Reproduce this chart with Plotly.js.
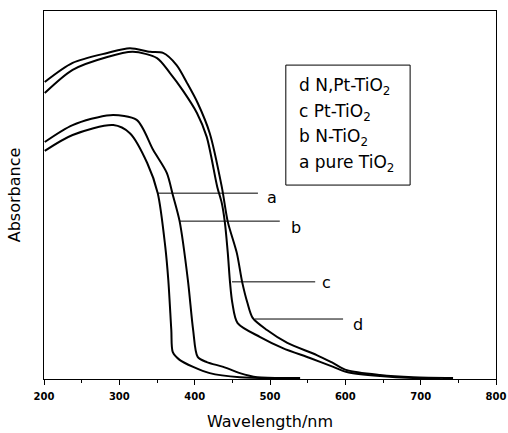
<!DOCTYPE html>
<html>
<head>
<meta charset="utf-8">
<script src="https://cdn.plot.ly/plotly-3.0.1.min.js"></script>
<style>html,body{margin:0;padding:0;background:#fff;}#chart{width:508px;height:433px;}</style>
</head>
<body>
<div id="chart"></div>
<script>
// Wavelength (nm) and absorbance (a.u.)
const wlD  = [201, 238, 284, 314, 341, 358, 376, 390, 404, 420, 436, 444, 456, 463, 470, 477, 496, 523, 562, 584, 602, 646, 690, 743];
const absD = [0.807, 0.859, 0.886, 0.899, 0.889, 0.886, 0.853, 0.804, 0.750, 0.668, 0.522, 0.427, 0.342, 0.264, 0.207, 0.166, 0.133, 0.098, 0.065, 0.043, 0.024, 0.011, 0.005, 0.003];

const wlC  = [201, 238, 284, 318, 350, 367, 384, 403, 416, 430, 436, 440, 444, 447, 450, 457, 487, 517, 553, 584, 602, 646, 690, 726];
const absC = [0.777, 0.840, 0.875, 0.889, 0.872, 0.832, 0.785, 0.723, 0.658, 0.522, 0.478, 0.427, 0.342, 0.261, 0.207, 0.152, 0.114, 0.084, 0.057, 0.033, 0.019, 0.008, 0.003, 0.003];

const wlB  = [201, 238, 288, 323, 345, 363, 371, 380, 391, 398, 404, 416, 438, 460, 483, 540];
const absB = [0.644, 0.690, 0.717, 0.704, 0.622, 0.560, 0.500, 0.429, 0.269, 0.133, 0.060, 0.046, 0.033, 0.016, 0.005, 0.003];

const wlA  = [201, 238, 292, 314, 337, 351, 361, 365, 369, 371, 380, 398, 420, 460, 500];
const absA = [0.620, 0.663, 0.690, 0.668, 0.587, 0.505, 0.359, 0.269, 0.133, 0.073, 0.052, 0.033, 0.016, 0.005, 0.003];

// Leader lines and curve labels
const labelNames = ['a', 'b', 'c', 'd'];
const leadStart  = [350, 380.5, 449.5, 480];
const leadEnd    = [484, 513, 560, 597];
const leadAbs    = [0.505, 0.429, 0.264, 0.163];
const labelWl    = [493, 525, 566, 607];
const labelAbs   = [0.493, 0.411, 0.262, 0.148];

// Legend text
const legendLines = ['d N,Pt-TiO<sub>2</sub>', 'c Pt-TiO<sub>2</sub>', 'b N-TiO<sub>2</sub>', 'a pure TiO<sub>2</sub>'];
const legendY = [0.796, 0.724, 0.655, 0.585];

// Axis ticks
const xTicks = [200, 300, 400, 500, 600, 700, 800];

const line = {color: '#000', width: 2, shape: 'spline', smoothing: 0.8};
const traces = [
  {x: wlD, y: absD, mode: 'lines', line: line, name: 'd'},
  {x: wlC, y: absC, mode: 'lines', line: line, name: 'c'},
  {x: wlB, y: absB, mode: 'lines', line: line, name: 'b'},
  {x: wlA, y: absA, mode: 'lines', line: line, name: 'a'}
];

const shapes = labelNames.map((n, i) => ({
  type: 'line', xref: 'x', yref: 'y',
  x0: leadStart[i], x1: leadEnd[i], y0: leadAbs[i], y1: leadAbs[i],
  line: {color: '#000', width: 1}
}));
shapes.push({type: 'rect', xref: 'paper', yref: 'paper', x0: 0.535, x1: 0.81, y0: 0.527, y1: 0.853,
  line: {color: '#000', width: 1}, fillcolor: 'rgba(0,0,0,0)'});

const annotations = labelNames.map((n, i) => ({
  x: labelWl[i], y: labelAbs[i], xref: 'x', yref: 'y', text: n, showarrow: false,
  xanchor: 'left', yanchor: 'middle', font: {family: 'DejaVu Sans', size: 16, color: '#000'}
}));
legendLines.forEach((t, i) => annotations.push({
  x: 0.56, y: legendY[i], xref: 'paper', yref: 'paper', xanchor: 'left', yanchor: 'middle',
  text: t, align: 'left', showarrow: false,
  font: {family: 'DejaVu Sans', size: 17, color: '#000'}
}));

const layout = {
  width: 508, height: 433,
  margin: {l: 44, r: 12, t: 11, b: 54},
  paper_bgcolor: '#fff', plot_bgcolor: '#fff',
  showlegend: false,
  xaxis: {
    range: [200, 800], tickvals: xTicks, ticktext: xTicks.map(String),
    ticks: 'outside', ticklen: 5, tickwidth: 1, tickcolor: '#000', ticklabelstandoff: 3,
    minor: {dtick: 50, ticks: 'outside', ticklen: 3, tickwidth: 1, tickcolor: '#000'},
    showgrid: false, zeroline: false, showline: true, linecolor: '#000', linewidth: 1, mirror: true,
    tickfont: {family: 'DejaVu Sans', size: 10, color: '#000', weight: 'bold'},
    title: {text: 'Wavelength/nm', font: {family: 'DejaVu Sans', size: 16, color: '#000'}, standoff: 14}
  },
  yaxis: {
    range: [0, 1], showticklabels: false, ticks: '',
    showgrid: false, zeroline: false, showline: true, linecolor: '#000', linewidth: 1, mirror: true,
    title: {text: 'Absorbance', font: {family: 'DejaVu Sans', size: 16, color: '#000'}, standoff: 18}
  },
  shapes: shapes,
  annotations: annotations
};

Plotly.newPlot('chart', traces, layout, {displayModeBar: false, staticPlot: true});
</script>
</body>
</html>
